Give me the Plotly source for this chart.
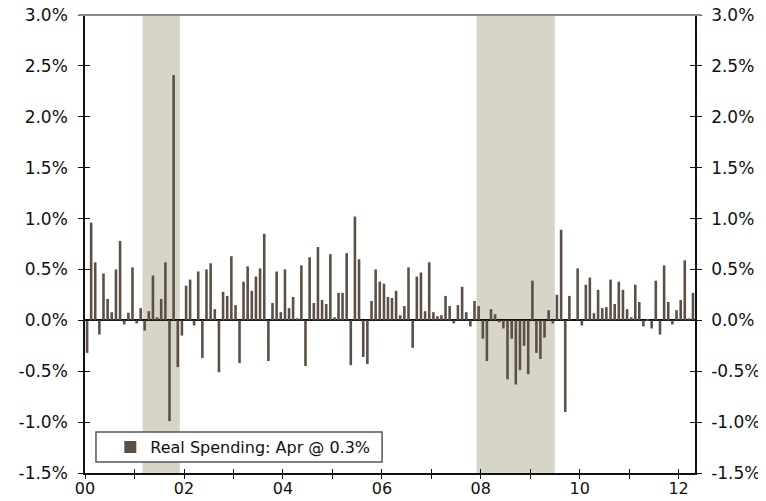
import plotly.graph_objects as go

# Monthly % change in real personal spending, Jan 2000 - Apr 2012
y2000 = [-0.32, 0.96, 0.57, -0.14, 0.46, 0.21, 0.08, 0.50, 0.78, -0.04, 0.075, 0.52]
y2001 = [-0.03, 0.12, -0.10, 0.09, 0.44, 0.03, 0.21, 0.57, -0.99, 2.41, -0.46, -0.15]
y2002 = [0.34, 0.40, -0.05, 0.48, -0.37, 0.50, 0.56, 0.11, -0.51, 0.28, 0.24, 0.63]
y2003 = [0.15, -0.42, 0.38, 0.53, 0.29, 0.43, 0.51, 0.85, -0.40, 0.17, 0.48, 0.08]
y2004 = [0.50, 0.12, 0.23, 0.02, 0.54, -0.45, 0.62, 0.17, 0.72, 0.20, 0.16, 0.65]
y2005 = [0.03, 0.27, 0.27, 0.66, -0.44, 1.02, 0.60, -0.36, -0.43, 0.19, 0.50, 0.38]
y2006 = [0.36, 0.23, 0.22, 0.29, 0.05, 0.14, 0.52, -0.27, 0.43, 0.47, 0.09, 0.57]
y2007 = [0.08, 0.04, 0.05, 0.24, 0.14, -0.03, 0.15, 0.33, 0.08, -0.06, 0.19, 0.14]
y2008 = [-0.18, -0.40, 0.11, 0.06, -0.02, -0.08, -0.58, -0.18, -0.63, -0.49, -0.25, -0.53]
y2009 = [0.39, -0.32, -0.38, -0.17, 0.10, -0.03, 0.25, 0.89, -0.90, 0.24, 0.00, 0.51]
y2010 = [-0.05, 0.35, 0.42, 0.07, 0.30, 0.12, 0.13, 0.40, 0.16, 0.38, 0.30, 0.11]
y2011 = [0.03, 0.35, 0.18, -0.06, 0.01, -0.08, 0.39, -0.14, 0.54, 0.18, -0.04, 0.10]
y2012 = [0.20, 0.59, 0.02, 0.27]

yearly = [y2000, y2001, y2002, y2003, y2004, y2005, y2006, y2007,
          y2008, y2009, y2010, y2011, y2012]
values = [v for yr in yearly for v in yr]
months = [f"{2000 + i // 12}-{i % 12 + 1:02d}-01" for i in range(len(values))]

recession_starts = ["2001-03-01", "2007-12-01"]
recession_ends = ["2001-12-01", "2009-07-01"]

y_ticks = [-1.5, -1.0, -0.5, 0.0, 0.5, 1.0, 1.5, 2.0, 2.5, 3.0]
y_ticktext = [f"{v:.1f}%" for v in y_ticks]
x_tickvals = [f"{y}-01-01" for y in range(2000, 2013)]
x_ticktext = [f"{y % 100:02d}" if y % 2 == 0 else "" for y in range(2000, 2013)]

legend_label = "Real Spending: Apr @ 0.3%"

BAR = "#5C5046"
SHADE = "#D7D4C8"
FAMILY = "DejaVu Sans, Verdana, sans-serif"
INK = "#111111"

fig = go.Figure()
fig.add_trace(go.Bar(
    x=months, y=values, name=legend_label,
    xperiod="M1", xperiodalignment="middle",
    marker=dict(color=BAR, line=dict(width=0)),
    xaxis="x", yaxis="y",
))
# helper empty traces so overlay axes (right labels, crossing ticks) get drawn
for xa, ya in [("x", "y2"), ("x2", "y3"), ("x2", "y4")]:
    fig.add_trace(go.Scatter(x=[None], y=[None], xaxis=xa, yaxis=ya,
                             showlegend=False, hoverinfo="skip", mode="markers"))

for s, e in zip(recession_starts, recession_ends):
    fig.add_shape(type="rect", xref="x", yref="paper", x0=s, x1=e, y0=0, y1=1,
                  fillcolor=SHADE, line=dict(width=0), layer="below")

# top border (grey)
fig.add_shape(type="line", xref="paper", yref="paper", x0=-0.01, x1=1.01, y0=1, y1=1,
              line=dict(color="#8A8A8A", width=2))
# legend box
fig.add_shape(type="rect", xref="paper", yref="paper",
              x0=0.018, x1=0.487, y0=0.024, y1=0.0895,
              line=dict(color="#555555", width=1.5), fillcolor="white", layer="above")

xr = ["2000-01-01", "2012-05-01"]
yr = [-1.5, 3.0]
common_y = dict(range=yr, tickvals=y_ticks, ticktext=y_ticktext, ticklen=5,
                tickcolor=INK, showgrid=False, fixedrange=True, automargin=False,
                ticklabeloverflow="allow",
                tickfont=dict(family=FAMILY, size=17, color=INK))

# page body has an 8px default margin, so the figure is sized/margined to compensate
fig.update_layout(
    width=758, height=493,
    margin=dict(l=77, r=71, t=7, b=28, autoexpand=False),
    paper_bgcolor="white", plot_bgcolor="white",
    font=dict(family=FAMILY, size=16, color=INK),
    bargap=0.35,
    showlegend=True,
    legend=dict(x=0.0415, y=0.0568, xanchor="left", yanchor="middle",
                bgcolor="rgba(0,0,0,0)", borderwidth=0,
                font=dict(family=FAMILY, size=16, color=INK)),
    xaxis=dict(type="date", range=xr, tickvals=x_tickvals, ticktext=x_ticktext,
               ticks="outside", ticklen=4, tickcolor=INK,
               tickfont=dict(family=FAMILY, size=16, color=INK),
               ticklabelstandoff=-4, automargin=False, ticklabeloverflow="allow",
               showline=True, linecolor=INK, linewidth=1.5,
               showgrid=False, zeroline=False),
    xaxis2=dict(type="date", range=xr, overlaying="x", tickvals=x_tickvals,
                ticks="inside", ticklen=4, tickcolor=INK, automargin=False,
                showticklabels=False, showline=False, showgrid=False),
    yaxis=dict(side="left", ticks="outside", showline=True, linecolor=INK,
               linewidth=1.5, zeroline=True, zerolinecolor=INK,
               zerolinewidth=1.5, ticklabelstandoff=7, **common_y),
    yaxis2=dict(side="right", overlaying="y", ticks="outside", showline=True,
                linecolor=INK, linewidth=1.5, zeroline=False,
                ticklabelstandoff=6, **common_y),
    yaxis3=dict(side="left", overlaying="y", anchor="x2", ticks="inside",
                showticklabels=False, showline=False, zeroline=False, **common_y),
    yaxis4=dict(side="right", overlaying="y", anchor="x2", ticks="inside",
                showticklabels=False, showline=False, zeroline=False, **common_y),
)

fig.write_html("out.html")
